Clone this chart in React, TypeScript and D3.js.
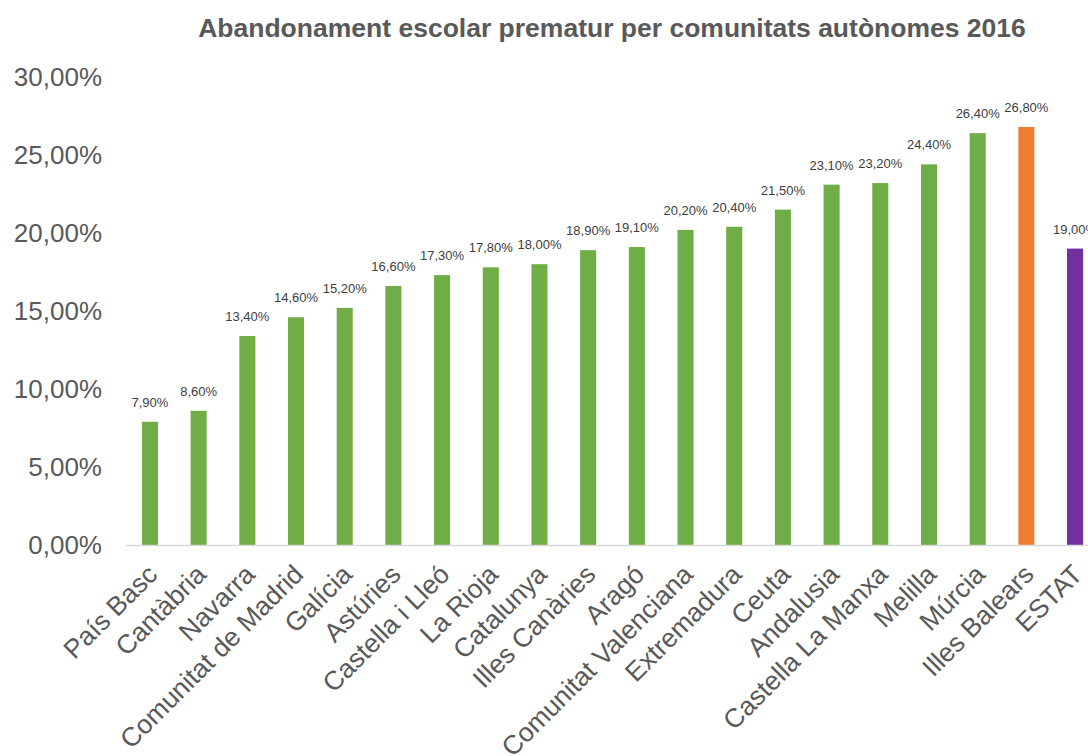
import React, { useEffect, useRef } from 'react';
import * as d3 from 'd3';

const regions = [
  'País Basc', 'Cantàbria', 'Navarra', 'Comunitat de Madrid', 'Galícia', 'Astúries',
  'Castella i Lleó', 'La Rioja', 'Catalunya', 'Illes Canàries', 'Aragó',
  'Comunitat Valenciana', 'Extremadura', 'Ceuta', 'Andalusia', 'Castella La Manxa',
  'Melilla', 'Múrcia', 'Illes Balears', 'ESTAT',
];
const rates = [
  7.9, 8.6, 13.4, 14.6, 15.2, 16.6, 17.3, 17.8, 18.0, 18.9, 19.1,
  20.2, 20.4, 21.5, 23.1, 23.2, 24.4, 26.4, 26.8, 19.0,
];
const yTicks = [0, 5, 10, 15, 20, 25, 30];

const barColor = (name: string) =>
  name === 'Illes Balears' ? '#ed7d31' : name === 'ESTAT' ? '#7030a0' : '#70ad47';

const fmt = (v: number) => v.toFixed(2).replace('.', ',') + '%';

export default function App() {
  const ref = useRef<SVGSVGElement>(null);

  useEffect(() => {
    const width = 1088;
    const height = 756;
    const svg = d3.select(ref.current);
    svg.selectAll('*').remove();

    const data = regions.map((name, i) => ({ name, value: rates[i] }));
    const font = "'Liberation Sans', Arial, sans-serif";

    const x = d3.scaleBand()
      .domain(regions)
      .range([125.6, 1099.4])
      .paddingInner(0.67)
      .paddingOuter(0.335);

    const y = d3.scaleLinear().domain([0, 30]).range([545, 77]);

    // title
    svg.append('text')
      .attr('x', 612)
      .attr('y', 37)
      .attr('text-anchor', 'middle')
      .attr('font-family', font)
      .attr('font-weight', 'bold')
      .attr('font-size', 26.5)
      .attr('fill', '#595959')
      .text('Abandonament escolar prematur per comunitats autònomes 2016');

    // y axis labels
    svg.append('g')
      .selectAll('text')
      .data(yTicks)
      .join('text')
      .attr('x', 102)
      .attr('y', (d) => y(d))
      .attr('dy', '0.33em')
      .attr('text-anchor', 'end')
      .attr('font-family', font)
      .attr('font-size', 26)
      .attr('fill', '#595959')
      .text((d) => fmt(d));

    // bars
    svg.append('g')
      .selectAll('rect')
      .data(data)
      .join('rect')
      .attr('x', (d) => x(d.name)!)
      .attr('y', (d) => y(d.value))
      .attr('width', x.bandwidth())
      .attr('height', (d) => y(0) - y(d.value))
      .attr('fill', (d) => barColor(d.name));

    // baseline
    svg.append('line')
      .attr('x1', 126)
      .attr('x2', width)
      .attr('y1', y(0) + 0.5)
      .attr('y2', y(0) + 0.5)
      .attr('stroke', '#d9d9d9')
      .attr('stroke-width', 1.5);

    // value labels
    svg.append('g')
      .selectAll('text')
      .data(data)
      .join('text')
      .attr('x', (d) => x(d.name)! + x.bandwidth() / 2)
      .attr('y', (d) => y(d.value) - 15)
      .attr('text-anchor', 'middle')
      .attr('font-family', font)
      .attr('font-size', 13)
      .attr('fill', '#404040')
      .text((d) => fmt(d.value));

    // category labels
    svg.append('g')
      .selectAll('text')
      .data(regions)
      .join('text')
      .attr('transform', (d) => `translate(${x(d)! + x.bandwidth() / 2 + 9},${y(0) + 31}) rotate(-45)`)
      .attr('text-anchor', 'end')
      .attr('font-family', font)
      .attr('font-size', 26.5)
      .attr('fill', '#595959')
      .text((d) => d);

    svg.attr('width', width).attr('height', height);
  }, []);

  return (
    <svg
      ref={ref}
      style={{ position: 'absolute', left: 0, top: 0, display: 'block' }}
    />
  );
}
